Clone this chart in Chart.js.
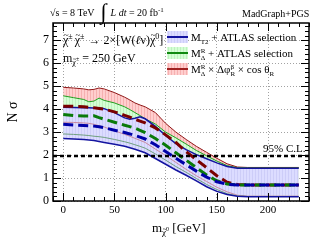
<!DOCTYPE html>
<html>
<head>
<meta charset="utf-8">
<script src="https://cdn.jsdelivr.net/npm/chart.js@4.4.0/dist/chart.umd.min.js"></script>
<style>
  html, body { margin: 0; padding: 0; background: #fff; }
  #wrap { width: 332px; height: 243px; }
</style>
</head>
<body>
<div id="wrap"><canvas id="chart" width="332" height="243"></canvas></div>
<script>
// neutralino mass points (GeV)
const massX = [0, 10, 20, 25, 30, 35, 40, 50, 60, 65, 70, 75, 80, 90, 100, 110, 120, 130, 140, 150, 160, 170, 180, 200, 230];

// M_T2 + ATLAS selection (blue)
const blueHigh = [4.08, 4.07, 4.06, 4.06, 4.05, 4.05, 4.02, 3.85, 3.62, 3.56, 3.6, 3.67, 3.58, 3.25, 2.85, 2.5, 2.24, 2.02, 1.84, 1.66, 1.5, 1.43, 1.43, 1.43, 1.43];
const blueMid  = [3.34, 3.31, 3.29, 3.28, 3.26, 3.23, 3.19, 3.08, 2.98, 2.92, 2.85, 2.78, 2.7, 2.45, 2.15, 1.86, 1.58, 1.3, 1.04, 0.84, 0.73, 0.7, 0.7, 0.7, 0.7];
const blueLow  = [2.72, 2.7, 2.68, 2.66, 2.63, 2.59, 2.55, 2.47, 2.38, 2.32, 2.25, 2.18, 2.1, 1.85, 1.6, 1.35, 1.12, 0.88, 0.62, 0.42, 0.28, 0.21, 0.19, 0.19, 0.19];

// M_Delta^R + ATLAS selection (green)
const greenHigh = [4.58, 4.5, 4.42, 4.32, 4.35, 4.48, 4.38, 4.27, 4.1, 3.98, 3.85, 3.72, 3.58, 3.35, 3.0, 2.75, 2.48, 2.2, 1.97, 1.74, 1.54, 1.45, 1.44, 1.44, 1.44];
const greenMid  = [3.77, 3.72, 3.7, 3.7, 3.71, 3.63, 3.56, 3.43, 3.3, 3.24, 3.17, 3.08, 2.98, 2.72, 2.43, 2.1, 1.78, 1.45, 1.13, 0.88, 0.74, 0.7, 0.7, 0.7, 0.7];
const greenLow  = [2.92, 2.9, 2.87, 2.85, 2.82, 2.8, 2.77, 2.68, 2.58, 2.52, 2.45, 2.38, 2.3, 2.05, 1.78, 1.5, 1.25, 0.98, 0.72, 0.5, 0.32, 0.22, 0.2, 0.2, 0.2];

// M_Delta^R x dphi x cos theta (red)
const redHigh = [4.95, 4.92, 4.88, 4.84, 4.86, 4.92, 4.88, 4.72, 4.52, 4.4, 4.27, 4.18, 4.1, 3.85, 3.38, 3.0, 2.68, 2.38, 2.12, 1.86, 1.62, 1.48, 1.46, 1.46, 1.46];
const redMid  = [4.13, 4.12, 4.1, 4.08, 4.06, 4.03, 4.0, 3.88, 3.73, 3.65, 3.56, 3.48, 3.4, 3.18, 2.88, 2.55, 2.15, 1.8, 1.45, 1.1, 0.82, 0.72, 0.7, 0.7, 0.7];
const redLow  = [3.43, 3.42, 3.4, 3.38, 3.34, 3.28, 3.22, 3.06, 2.9, 2.82, 2.73, 2.64, 2.55, 2.26, 1.98, 1.68, 1.38, 1.1, 0.85, 0.6, 0.4, 0.25, 0.21, 0.21, 0.21];

const clLevel = 1.96;
const xMin = -10, xMax = 240;
const yMin = 0, yMax = 7.75;
const xTickValues = [0, 50, 100, 150, 200];
const yTickValues = [0, 1, 2, 3, 4, 5, 6, 7];

const FONT = '"Liberation Serif", "DejaVu Serif", serif';

const canvas = document.getElementById('chart');
const mainCtx = canvas.getContext('2d');

function hatch(base, line) {
  const c = document.createElement('canvas');
  c.width = 3; c.height = 3;
  const g = c.getContext('2d');
  g.fillStyle = base; g.fillRect(0, 0, 3, 3);
  g.fillStyle = line; g.fillRect(0, 0, 1, 3);
  return mainCtx.createPattern(c, 'repeat');
}
const bluePat = hatch('#dcdcff', '#cdcdf8');
const greenPat = hatch('#d4ffd4', '#bff0bf');
const redPat = hatch('#ffcece', '#f5b0b0');

function pts(vals) {
  return massX.map((x, i) => ({ x: x, y: vals[i] }));
}

// draws a row of text pieces (sub/superscripts, tildes)
function drawRuns(ctx, x, y, runs) {
  runs.forEach(r => {
    const size = r.s || 12;
    ctx.font = (r.i ? 'italic ' : '') + size + 'px ' + FONT;
    const dy = r.dy || 0;
    ctx.fillText(r.t, x, y + dy);
    const w = ctx.measureText(r.t).width;
    if (r.tilde) {
      const ts = Math.round(size * 0.75);
      ctx.font = ts + 'px ' + FONT;
      const tw = ctx.measureText('~').width;
      ctx.fillText('~', x + (w - tw) / 2 + 0.5, y + dy - size * 0.5);
    }
    if (!r.k) x += w + (r.g || 0);
  });
  return x;
}

const decorations = {
  id: 'decorations',
  afterDraw(chart) {
    const ctx = chart.ctx;
    const a = chart.chartArea;
    const xs = chart.scales.x, ys = chart.scales.y;
    ctx.save();
    ctx.strokeStyle = '#000';
    ctx.lineWidth = 1;
    ctx.beginPath();
    for (let v = xMin; v <= xMax; v += 10) {
      const px = Math.round(xs.getPixelForValue(v)) + 0.5;
      const len = v % 50 === 0 ? 8 : 4;
      ctx.moveTo(px, a.bottom); ctx.lineTo(px, a.bottom - len);
      ctx.moveTo(px, a.top); ctx.lineTo(px, a.top + len);
    }
    for (let i = 0; i * 0.2 <= yMax; i++) {
      const py = Math.round(ys.getPixelForValue(i * 0.2)) + 0.5;
      const len = i % 5 === 0 ? 8 : 4;
      ctx.moveTo(a.left, py); ctx.lineTo(a.left + len, py);
      ctx.moveTo(a.right, py); ctx.lineTo(a.right - len, py);
    }
    ctx.stroke();
    ctx.lineWidth = 1.5;
    ctx.strokeRect(a.left, a.top, a.right - a.left, a.bottom - a.top);

    ctx.fillStyle = '#000';
    ctx.textBaseline = 'alphabetic';
    ctx.textAlign = 'left';

    // header
    let hx = drawRuns(ctx, 50, 16, [{ t: '\u221As = 8 TeV', s: 10 }]);
    ctx.font = '22px ' + FONT;
    ctx.fillText('\u222B', hx + 6, 19);
    drawRuns(ctx, hx + 16, 16, [
      { t: 'L', s: 10, i: 1 }, { t: ' ', s: 10 }, { t: 'dt', s: 10, i: 1 },
      { t: ' = 20 fb', s: 10 }, { t: '-1', s: 7, dy: -4 }
    ]);
    drawRuns(ctx, 242, 17, [{ t: 'MadGraph+PGS', s: 10 }]);

    // process text
    drawRuns(ctx, 63, 44, [
      { t: '\u03C7', s: 12, tilde: 1 }, { t: '\u00B1', s: 8, dy: -5, g: 2 },
      { t: '\u03C7', s: 12, tilde: 1 }, { t: '\u00B1', s: 8, dy: -5, g: 1 },
      { t: ' \u2192 2\u00D7[W(', s: 12 }, { t: '\u2113', s: 12, i: 1 }, { t: '\u03BD)', s: 12 },
      { t: '\u03C7', s: 12, tilde: 1 }, { t: '0', s: 8, dy: -5 }, { t: ']', s: 12 }
    ]);
    drawRuns(ctx, 63, 62, [
      { t: 'm', s: 12 }, { t: '\u03C7', s: 8, dy: 3, tilde: 1 }, { t: '\u00B1', s: 6, dy: -1 },
      { t: ' = 250 GeV', s: 12 }
    ]);

    // legend
    const rows = [
      { y: 37, pat: bluePat, line: '#1414a0', runs: [{ t: 'M', s: 11 }, { t: 'T2', s: 7, dy: 3 }, { t: ' + ATLAS selection', s: 11 }] },
      { y: 53, pat: greenPat, line: '#108a10', runs: [{ t: 'M', s: 11 }, { t: 'R', s: 7, dy: -4, k: 1 }, { t: '\u0394', s: 7, dy: 3 }, { t: ' + ATLAS selection', s: 11 }] },
      { y: 69, pat: redPat, line: '#a02020', runs: [{ t: 'M', s: 11 }, { t: 'R', s: 7, dy: -4, k: 1 }, { t: '\u0394', s: 7, dy: 3 },
        { t: ' \u00D7 \u0394\u03C6', s: 11 }, { t: '\u03B2', s: 7, dy: -4, k: 1 }, { t: 'R', s: 7, dy: 3 },
        { t: ' \u00D7 cos \u03B8', s: 11 }, { t: 'R', s: 7, dy: 3 }] }
    ];
    rows.forEach(r => {
      ctx.fillStyle = r.pat;
      ctx.fillRect(167, r.y - 6, 21, 12);
      ctx.strokeStyle = r.line;
      ctx.lineWidth = 2;
      ctx.beginPath(); ctx.moveTo(167, r.y); ctx.lineTo(188, r.y); ctx.stroke();
      ctx.fillStyle = '#000';
      drawRuns(ctx, 191, r.y + 4, r.runs);
    });

    // 95% C.L.
    drawRuns(ctx, 263, 152, [{ t: '95% C.L.', s: 11 }]);

    // axis titles
    drawRuns(ctx, 152, 232, [
      { t: 'm', s: 13 }, { t: '\u03C7', s: 9, dy: 3, tilde: 1 }, { t: '0', s: 6, dy: -1 }, { t: ' [GeV]', s: 13 }
    ]);
    ctx.save();
    ctx.translate(17, 112);
    ctx.rotate(-Math.PI / 2);
    ctx.font = '14px ' + FONT;
    ctx.textAlign = 'center';
    ctx.fillText('N \u03C3', 0, 0);
    ctx.restore();

    ctx.restore();
  }
};

function solid(label, vals, color, width) {
  return { label: label, data: pts(vals), borderColor: color, borderWidth: width, fill: false };
}

const datasets = [
  { label: '95% C.L.', data: [{ x: xMin, y: clLevel }, { x: xMax, y: clLevel }], borderColor: '#000', borderWidth: 2.5, borderDash: [4, 3], fill: false },
  { label: 'MT2 central', data: pts(blueMid), borderColor: '#0000a8', borderWidth: 3, borderDash: [10, 5], fill: false },
  { label: 'MR central', data: pts(greenMid), borderColor: '#0a7a0a', borderWidth: 3, borderDash: [10, 5], fill: false },
  { label: 'MR dphi cos central', data: pts(redMid), borderColor: '#7a0000', borderWidth: 3, borderDash: [10, 5], fill: false },
  Object.assign(solid('MT2 high', blueHigh, '#1414a0', 1.5), { fill: { target: 5 }, backgroundColor: bluePat }),
  solid('MT2 low', blueLow, '#1414a0', 1.5),
  Object.assign(solid('MR high', greenHigh, '#20a020', 1), { fill: { target: 7 }, backgroundColor: greenPat }),
  solid('MR low', greenLow, '#70a080', 1),
  Object.assign(solid('MR dphi high', redHigh, '#901818', 1), { fill: { target: 9 }, backgroundColor: redPat }),
  solid('MR dphi low', redLow, '#c88aa0', 1)
];

new Chart(canvas, {
  type: 'line',
  data: { datasets: datasets },
  options: {
    responsive: false,
    animation: false,
    devicePixelRatio: 1,
    layout: { padding: { top: 23, right: 23, left: 0, bottom: 0 } },
    elements: { point: { radius: 0 }, line: { tension: 0 } },
    plugins: {
      legend: { display: false },
      tooltip: { enabled: false },
      filler: { drawTime: 'beforeDatasetsDraw' }
    },
    scales: {
      x: {
        type: 'linear', min: xMin, max: xMax,
        afterBuildTicks: s => { s.ticks = xTickValues.map(v => ({ value: v })); },
        ticks: { maxRotation: 0, padding: 3, color: '#000', font: { family: FONT, size: 11 } },
        grid: { color: '#8a8a8a', lineWidth: 0.8, drawTicks: false },
        border: { display: false, dash: [1, 2] },
        afterFit: s => { s.height = 42; }
      },
      y: {
        type: 'linear', min: yMin, max: yMax,
        afterBuildTicks: s => { s.ticks = yTickValues.map(v => ({ value: v })); },
        ticks: { padding: 4, color: '#000', font: { family: FONT, size: 12 } },
        grid: { color: '#8a8a8a', lineWidth: 0.8, drawTicks: false },
        border: { display: false, dash: [1, 2] },
        afterFit: s => { s.width = 53; }
      }
    }
  },
  plugins: [decorations]
});
</script>
</body>
</html>
